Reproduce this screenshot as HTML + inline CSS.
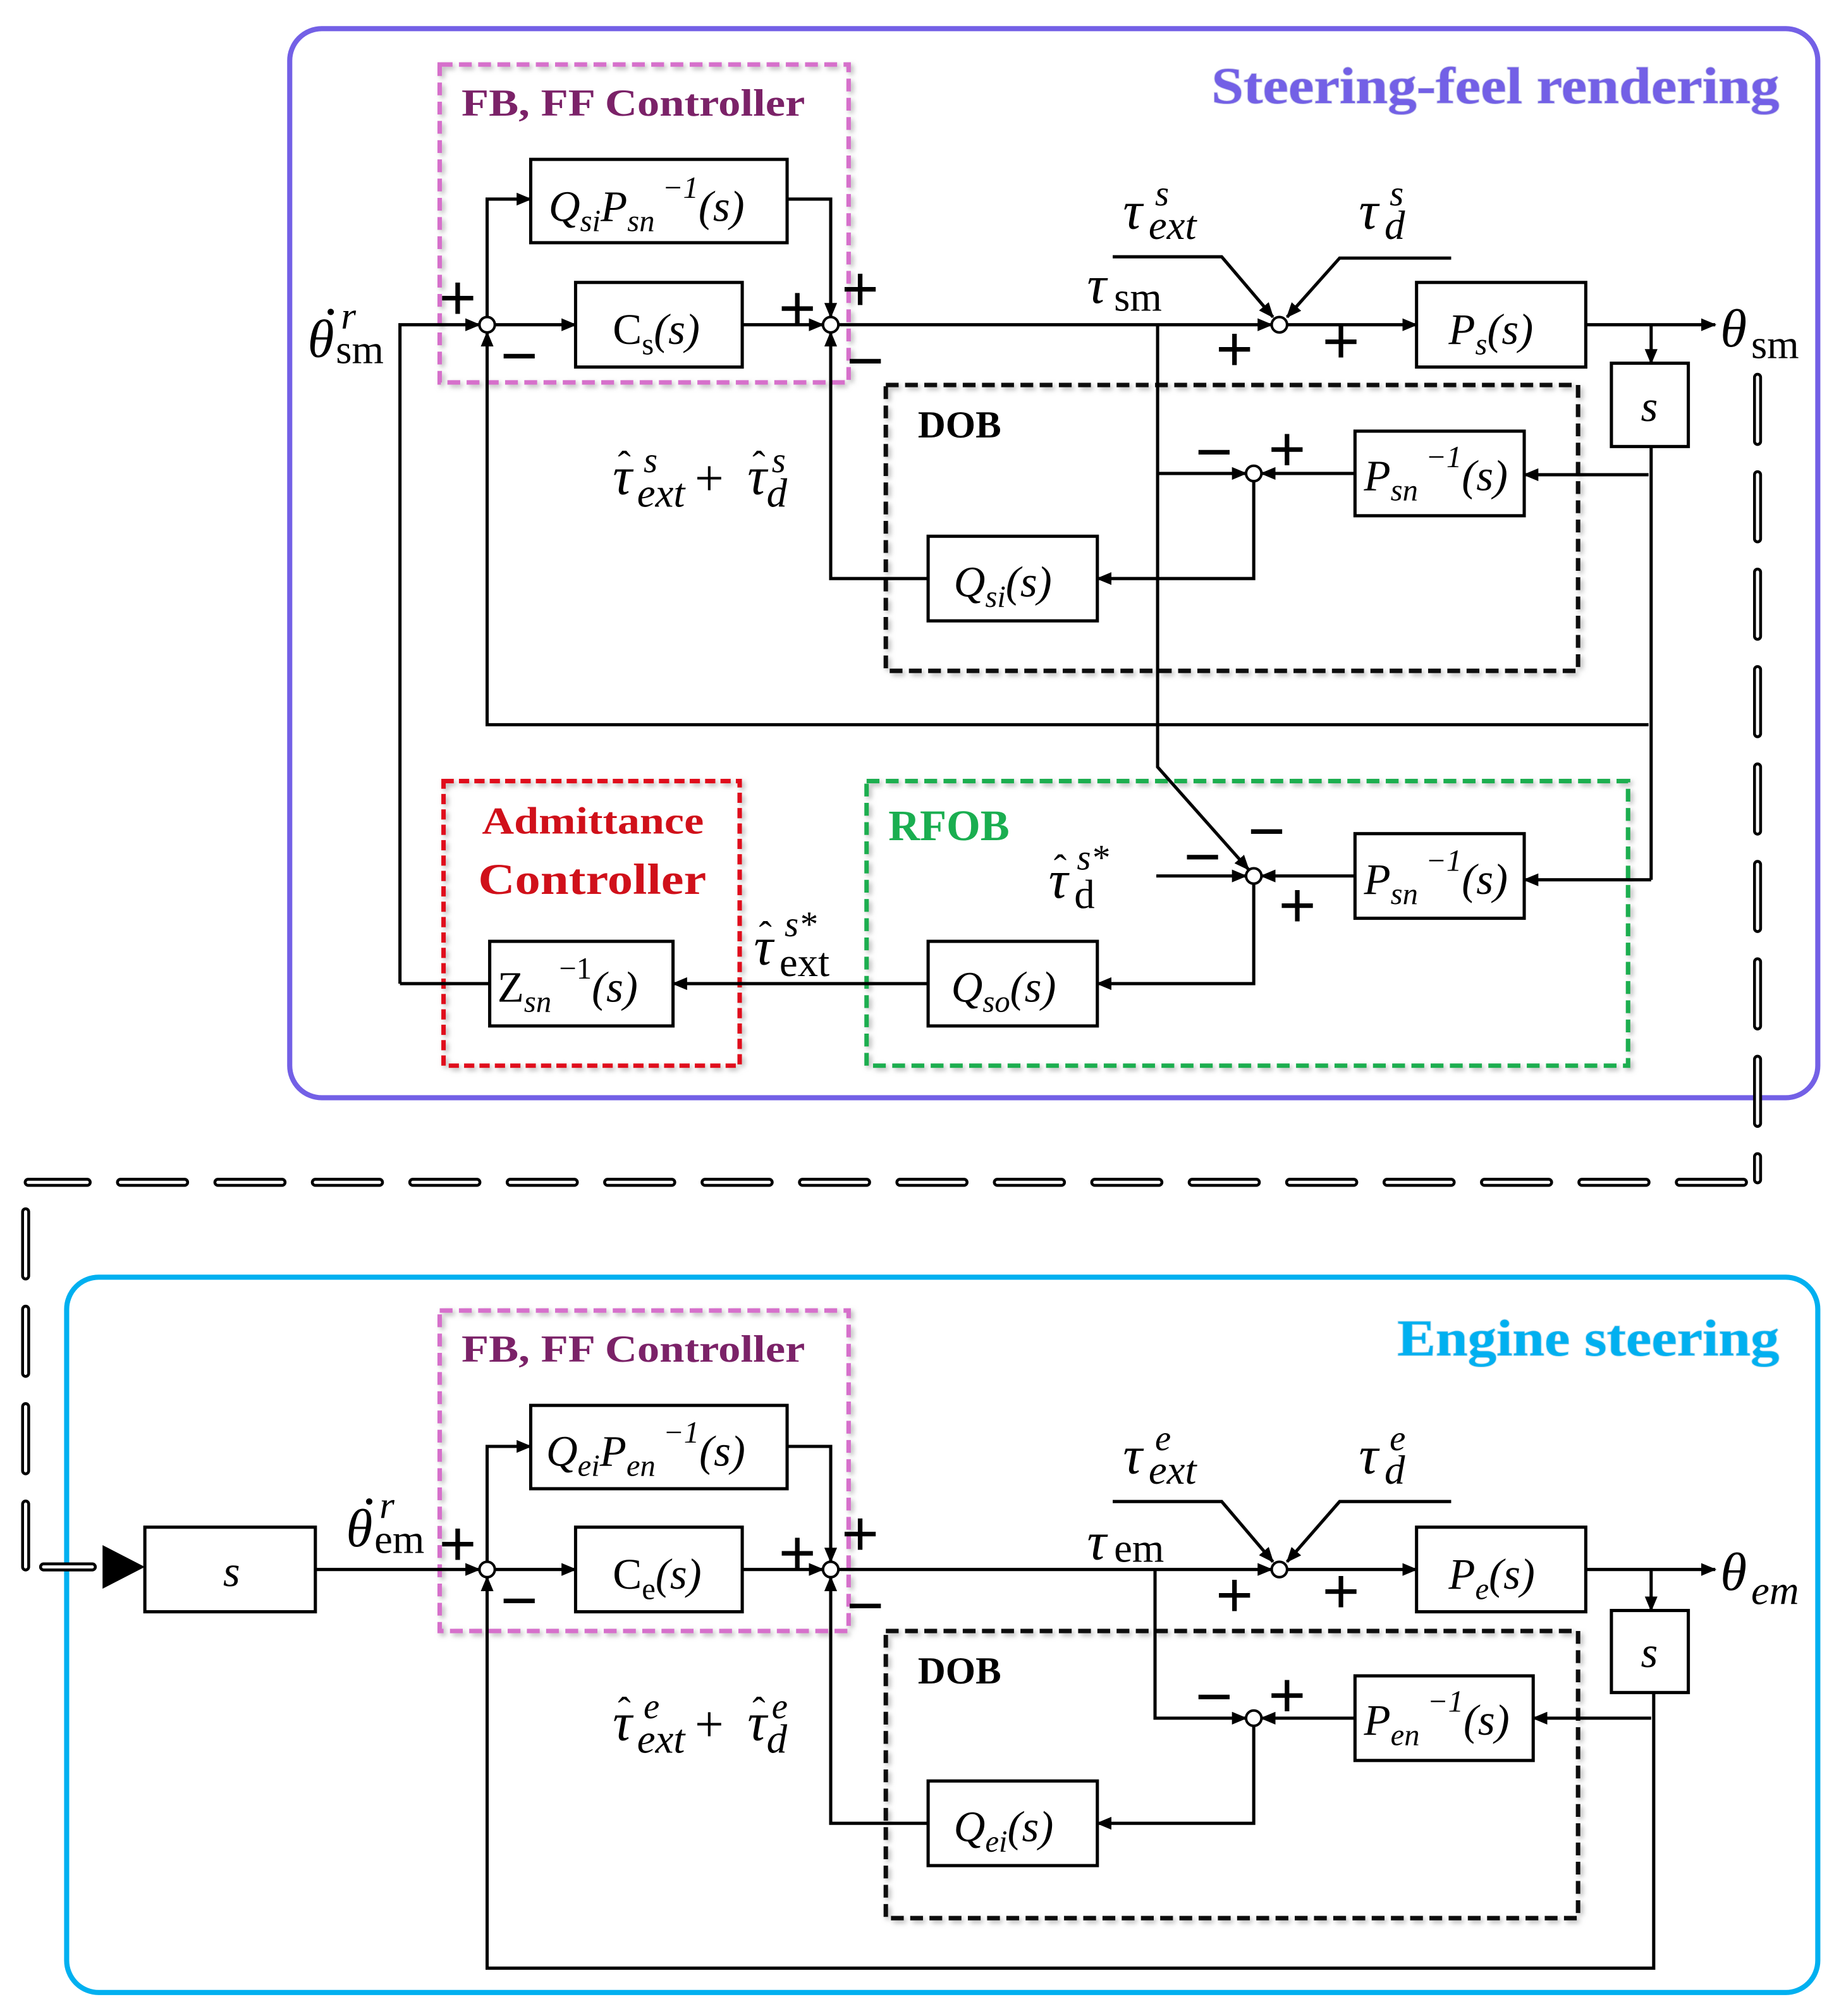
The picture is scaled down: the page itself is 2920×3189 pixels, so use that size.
<!DOCTYPE html>
<html><head><meta charset="utf-8"><style>
html,body{margin:0;padding:0;background:#fff}
svg{display:block}
.m{font-family:"Liberation Serif",serif;font-style:italic;fill:#000}
.r{font-family:"Liberation Serif",serif;fill:#000}
.b{font-family:"Liberation Serif",serif;font-weight:bold}
.sg{font-family:"Liberation Sans",sans-serif;fill:#000;font-size:50px;text-anchor:middle}
</style></head><body>
<svg width="2920" height="3189" viewBox="0 0 1440 1572" xmlns="http://www.w3.org/2000/svg">
<defs>
<marker id="a" markerWidth="12" markerHeight="10" refX="11" refY="5" orient="auto" markerUnits="userSpaceOnUse"><path d="M0,0 L12,5 L0,10 Z" fill="#000"/></marker>
<filter id="sh" x="-5%" y="-5%" width="110%" height="110%"><feDropShadow dx="2" dy="2" stdDeviation="2" flood-color="#888" flood-opacity="0.6"/></filter>
</defs>
<g fill="none" stroke-linecap="butt">
<rect x="226" y="22" width="1192" height="834" rx="25" stroke="#7360E6" stroke-width="4"/>
<rect x="52" y="996" width="1366" height="558" rx="25" stroke="#00B0F0" stroke-width="4"/>
<g stroke-width="3.5" filter="url(#sh)">
<rect x="343" y="50" width="319" height="248" stroke="#D66FCB" stroke-dasharray="10,5"/>
<rect x="691" y="300" width="540" height="223" stroke="#111" stroke-dasharray="10,5"/>
<rect x="676" y="609" width="594" height="222" stroke="#1AAE50" stroke-dasharray="10,5"/>
<rect x="346" y="609" width="231" height="222" stroke="#E0101A" stroke-dasharray="8,4"/>
<rect x="343" y="1022" width="319" height="250" stroke="#D66FCB" stroke-dasharray="10,5"/>
<rect x="691" y="1272" width="540" height="224" stroke="#111" stroke-dasharray="10,5"/>
</g>
<g stroke-linecap="round">
<path d="M1371 294 V920 M1360 922 H22 M20 945 V1222 M34 1222 H72" stroke="#000" stroke-width="7" stroke-dasharray="50,26"/>
<path d="M1371 294 V920 M1360 922 H22 M20 945 V1222 M34 1222 H72" stroke="#fff" stroke-width="2.5" stroke-dasharray="50,26"/>
</g>
<path d="M80 1205 L113 1222 L80 1239 Z" fill="#000"/>
<g stroke="#000" stroke-width="2.5" fill="#fff">
<rect x="414" y="124" width="200" height="65"/>
<rect x="449" y="220" width="130" height="66"/>
<rect x="1105" y="220" width="132" height="66"/>
<rect x="1257" y="283" width="60" height="65"/>
<rect x="1057" y="336" width="132" height="66"/>
<rect x="724" y="418" width="132" height="66"/>
<rect x="1057" y="650" width="132" height="66"/>
<rect x="724" y="734" width="132" height="66"/>
<rect x="382" y="734" width="143" height="66"/>
<rect x="113" y="1191" width="133" height="66"/>
<rect x="414" y="1096" width="200" height="65"/>
<rect x="449" y="1191" width="130" height="66"/>
<rect x="1105" y="1191" width="132" height="66"/>
<rect x="1257" y="1256" width="60" height="64"/>
<rect x="1057" y="1307" width="139" height="66"/>
<rect x="724" y="1389" width="132" height="66"/>
</g>
<g stroke="#000" stroke-width="2.5">
<path d="M312 767 V253 H374" marker-end="url(#a)"/>
<path d="M386 253 H449" marker-end="url(#a)"/>
<path d="M380 253 V155 H414" marker-end="url(#a)"/>
<path d="M614 155 H648 V247" marker-end="url(#a)"/>
<path d="M579 253 H642" marker-end="url(#a)"/>
<path d="M654 253 H992" marker-end="url(#a)"/>
<path d="M1004 253 H1105" marker-end="url(#a)"/>
<path d="M1237 253 H1338" marker-end="url(#a)"/>
<path d="M1288 253 V283" marker-end="url(#a)"/>
<path d="M868 200 H953 L993 247" marker-end="url(#a)"/>
<path d="M1132 201 H1045 L1004 247" marker-end="url(#a)"/>
<path d="M1288 348 V686"/>
<path d="M1286 370 H1189" marker-end="url(#a)"/>
<path d="M1057 369 H984" marker-end="url(#a)"/>
<path d="M903 253 V598 L974 678" marker-end="url(#a)"/>
<path d="M903 369 H972" marker-end="url(#a)"/>
<path d="M978 375 V451 H856" marker-end="url(#a)"/>
<path d="M724 451 H648 V259" marker-end="url(#a)"/>
<path d="M1286 565 H380 V259" marker-end="url(#a)"/>
<path d="M1288 686 H1189" marker-end="url(#a)"/>
<path d="M1057 683 H984" marker-end="url(#a)"/>
<path d="M902 683 H972" marker-end="url(#a)"/>
<path d="M978 689 V767 H856" marker-end="url(#a)"/>
<path d="M724 767 H525" marker-end="url(#a)"/>
<path d="M382 767 H312"/>
<path d="M246 1224 H374" marker-end="url(#a)"/>
<path d="M386 1224 H449" marker-end="url(#a)"/>
<path d="M380 1224 V1128 H414" marker-end="url(#a)"/>
<path d="M614 1128 H648 V1218" marker-end="url(#a)"/>
<path d="M579 1224 H642" marker-end="url(#a)"/>
<path d="M654 1224 H992" marker-end="url(#a)"/>
<path d="M1004 1224 H1105" marker-end="url(#a)"/>
<path d="M1237 1224 H1338" marker-end="url(#a)"/>
<path d="M1288 1224 V1256" marker-end="url(#a)"/>
<path d="M868 1171 H953 L993 1218" marker-end="url(#a)"/>
<path d="M1132 1171 H1045 L1004 1218" marker-end="url(#a)"/>
<path d="M1290 1320 V1535 H380 V1230" marker-end="url(#a)"/>
<path d="M1288 1340 H1196" marker-end="url(#a)"/>
<path d="M1057 1340 H984" marker-end="url(#a)"/>
<path d="M901 1224 V1340 H972" marker-end="url(#a)"/>
<path d="M978 1346 V1422 H856" marker-end="url(#a)"/>
<path d="M724 1422 H648 V1230" marker-end="url(#a)"/>
</g>
<g stroke="#000" stroke-width="2" fill="#fff">
<circle cx="380" cy="253" r="6"/><circle cx="648" cy="253" r="6"/><circle cx="998" cy="253" r="6"/>
<circle cx="978" cy="369" r="6"/><circle cx="978" cy="683" r="6"/>
<circle cx="380" cy="1224" r="6"/><circle cx="648" cy="1224" r="6"/><circle cx="998" cy="1224" r="6"/>
<circle cx="978" cy="1340" r="6"/>
</g>
</g>
<text x="945" y="80" class="b" font-size="40" fill="#7360E6" textLength="443" lengthAdjust="spacingAndGlyphs" style="paint-order:stroke" stroke="#c8c8e8" stroke-width="1">Steering-feel rendering</text>
<text x="1090" y="1057" class="b" font-size="40" fill="#00B0F0" textLength="298" lengthAdjust="spacingAndGlyphs" style="paint-order:stroke" stroke="#bde" stroke-width="1">Engine steering</text>
<text x="360" y="90" class="b" font-size="30" fill="#7B2268" textLength="268" lengthAdjust="spacingAndGlyphs">FB, FF Controller</text>
<text x="360" y="1062" class="b" font-size="30" fill="#7B2268" textLength="268" lengthAdjust="spacingAndGlyphs">FB, FF Controller</text>
<text x="716" y="341" class="b" font-size="30" fill="#000">DOB</text>
<text x="716" y="1313" class="b" font-size="30" fill="#000">DOB</text>
<text x="693" y="655" class="b" font-size="34" fill="#1AAE50">RFOB</text>
<text x="376" y="650" class="b" font-size="30" fill="#D0101A" textLength="173" lengthAdjust="spacingAndGlyphs">Admittance</text>
<text x="373" y="697" class="b" font-size="34" fill="#D0101A" textLength="178" lengthAdjust="spacingAndGlyphs">Controller</text>
<g font-size="34">
<text x="428" y="172" class="m">Q<tspan font-size="24" dy="8">si</tspan><tspan dy="-8">P</tspan><tspan font-size="24" dy="8">sn</tspan><tspan font-size="24" dy="-26" class="r"> −1</tspan><tspan dy="18">(s)</tspan></text>
<text x="478" y="268" class="r">C<tspan font-size="24" dy="8">s</tspan><tspan dy="-8" class="m">(s)</tspan></text>
<text x="1130" y="268" class="m">P<tspan font-size="24" dy="8">s</tspan><tspan dy="-8">(s)</tspan></text>
<text x="1280" y="328" class="m">s</text>
<text x="1064" y="382" class="m">P<tspan font-size="24" dy="8">sn</tspan><tspan font-size="24" dy="-26" class="r"> −1</tspan><tspan dy="18">(s)</tspan></text>
<text x="744" y="465" class="m">Q<tspan font-size="24" dy="8">si</tspan><tspan dy="-8">(s)</tspan></text>
<text x="1064" y="697" class="m">P<tspan font-size="24" dy="8">sn</tspan><tspan font-size="24" dy="-26" class="r"> −1</tspan><tspan dy="18">(s)</tspan></text>
<text x="742" y="781" class="m">Q<tspan font-size="24" dy="8">so</tspan><tspan dy="-8">(s)</tspan></text>
<text x="388" y="781" class="r">Z<tspan font-size="24" dy="8" class="m">sn</tspan><tspan font-size="24" dy="-26"> −1</tspan><tspan dy="18" class="m">(s)</tspan></text>
<text x="174" y="1237" class="m">s</text>
<text x="426" y="1143" class="m">Q<tspan font-size="24" dy="8">ei</tspan><tspan dy="-8">P</tspan><tspan font-size="24" dy="8">en</tspan><tspan font-size="24" dy="-26" class="r"> −1</tspan><tspan dy="18">(s)</tspan></text>
<text x="478" y="1239" class="r">C<tspan font-size="24" dy="8">e</tspan><tspan dy="-8" class="m">(s)</tspan></text>
<text x="1130" y="1239" class="m">P<tspan font-size="24" dy="8">e</tspan><tspan dy="-8">(s)</tspan></text>
<text x="1280" y="1300" class="m">s</text>
<text x="1064" y="1353" class="m">P<tspan font-size="24" dy="8">en</tspan><tspan font-size="24" dy="-26" class="r"> −1</tspan><tspan dy="18">(s)</tspan></text>
<text x="744" y="1436" class="m">Q<tspan font-size="24" dy="8">ei</tspan><tspan dy="-8">(s)</tspan></text>
</g>
<g>
<text x="240" y="278" class="m" font-size="42">θ</text><circle cx="258" cy="243" r="2.5" fill="#000"/>
<text x="266" y="256" class="m" font-size="30">r</text>
<text x="262" y="283" class="r" font-size="32">sm</text>
<text x="270" y="1206" class="m" font-size="42">θ</text><circle cx="288" cy="1171" r="2.5" fill="#000"/>
<text x="296" y="1184" class="m" font-size="30">r</text>
<text x="292" y="1211" class="r" font-size="32">em</text>
<text x="1342" y="270" class="m" font-size="42">θ</text><text x="1366" y="279" class="r" font-size="32">sm</text>
<text x="1342" y="1240" class="m" font-size="42">θ</text><text x="1366" y="1251" class="m" font-size="32">em</text>
<text x="876" y="178" class="m" font-size="42">τ</text><text x="901" y="160" class="m" font-size="28">s</text><text x="896" y="186" class="m" font-size="32">ext</text>
<text x="1060" y="178" class="m" font-size="42">τ</text><text x="1084" y="160" class="m" font-size="28">s</text><text x="1080" y="186" class="m" font-size="32">d</text>
<text x="848" y="236" class="m" font-size="42">τ</text><text x="869" y="242" class="r" font-size="32">sm</text>
<text x="876" y="1149" class="m" font-size="42">τ</text><text x="901" y="1131" class="m" font-size="28">e</text><text x="896" y="1157" class="m" font-size="32">ext</text>
<text x="1060" y="1149" class="m" font-size="42">τ</text><text x="1084" y="1131" class="m" font-size="28">e</text><text x="1080" y="1157" class="m" font-size="32">d</text>
<text x="848" y="1216" class="m" font-size="42">τ</text><text x="869" y="1218" class="r" font-size="32">em</text>
<text x="478" y="385" class="m" font-size="42">τ</text><text x="482" y="372" class="r" font-size="30">ˆ</text><text x="502" y="368" class="m" font-size="28">s</text><text x="497" y="395" class="m" font-size="32">ext</text>
<text x="542" y="386" class="r" font-size="40">+</text>
<text x="583" y="385" class="m" font-size="42">τ</text><text x="587" y="372" class="r" font-size="30">ˆ</text><text x="602" y="368" class="m" font-size="28">s</text><text x="598" y="395" class="m" font-size="32">d</text>
<text x="478" y="1357" class="m" font-size="42">τ</text><text x="482" y="1344" class="r" font-size="30">ˆ</text><text x="502" y="1340" class="m" font-size="28">e</text><text x="497" y="1367" class="m" font-size="32">ext</text>
<text x="542" y="1358" class="r" font-size="40">+</text>
<text x="583" y="1357" class="m" font-size="42">τ</text><text x="587" y="1344" class="r" font-size="30">ˆ</text><text x="602" y="1340" class="m" font-size="28">e</text><text x="598" y="1367" class="m" font-size="32">d</text>
<text x="818" y="700" class="m" font-size="42">τ</text><text x="822" y="687" class="r" font-size="30">ˆ</text><text x="840" y="678" class="m" font-size="28">s*</text><text x="838" y="708" class="r" font-size="32">d</text>
<text x="588" y="752" class="m" font-size="42">τ</text><text x="592" y="739" class="r" font-size="30">ˆ</text><text x="612" y="730" class="m" font-size="28">s*</text><text x="608" y="761" class="r" font-size="32">ext</text>
</g>
<g>
<text class="sg" x="357" y="249">+</text><text class="sg" x="405" y="294">−</text>
<text class="sg" x="622" y="257">+</text><text class="sg" x="671" y="242">+</text><text class="sg" x="675" y="298">−</text>
<text class="sg" x="963" y="289">+</text><text class="sg" x="1046" y="283">+</text>
<text class="sg" x="947" y="369">−</text><text class="sg" x="1004" y="367">+</text>
<text class="sg" x="938" y="685">−</text><text class="sg" x="988" y="665">−</text><text class="sg" x="1012" y="723">+</text>
<text class="sg" x="357" y="1221">+</text><text class="sg" x="405" y="1265">−</text>
<text class="sg" x="622" y="1228">+</text><text class="sg" x="671" y="1213">+</text><text class="sg" x="675" y="1269">−</text>
<text class="sg" x="963" y="1261">+</text><text class="sg" x="1046" y="1258">+</text>
<text class="sg" x="947" y="1340">−</text><text class="sg" x="1004" y="1339">+</text>
</g>
</svg>
</body></html>
